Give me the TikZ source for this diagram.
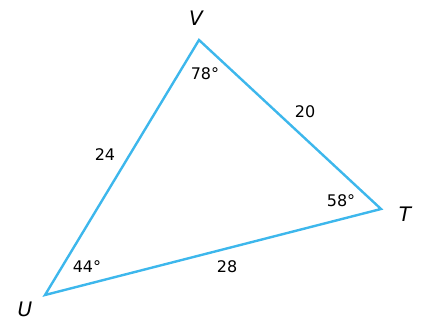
\documentclass[tikz,border=0pt]{standalone}
\usepackage{fontspec}
\setmainfont{DejaVu Sans}
\usepackage{tikz}
\usetikzlibrary{positioning}
\definecolor{triBlue}{HTML}{3DB7EC}
\tikzset{
  triside/.style={draw=triBlue, line width=2.4pt, line join=miter},
  trivert/.style={font=\fontsize{20}{20}\selectfont\itshape, inner sep=0pt},
  trilabel/.style={font=\fontsize{16}{16}\selectfont, inner sep=0pt},
}
\begin{document}
\begin{tikzpicture}[x=1pt, y=-1pt]
  \useasboundingbox (0,0) rectangle (425,320);
  % vertices
  \coordinate (v) at (199,40);
  \coordinate (t) at (381,209);
  \coordinate (u) at (45,295);
  \draw[triside] (u) -- (v) -- (t) -- cycle;
  % vertex names
  \node[trivert] (vname) at (196,18) {V};
  \node[trivert] (tname) at (405,214) {T};
  \node[trivert] (uname) at (25,309) {U};
  % angles
  \node[trilabel] (va) at (205,74) {78°};
  \node[trilabel] (ta) at (341,201) {58°};
  \node[trilabel] (ua) at (87,267) {44°};
  % sides
  \node[trilabel] (uv) at (105,155) {24};
  \node[trilabel] (vt) at (305,112) {20};
  \node[trilabel] (ut) at (227,267) {28};
\end{tikzpicture}
\end{document}
